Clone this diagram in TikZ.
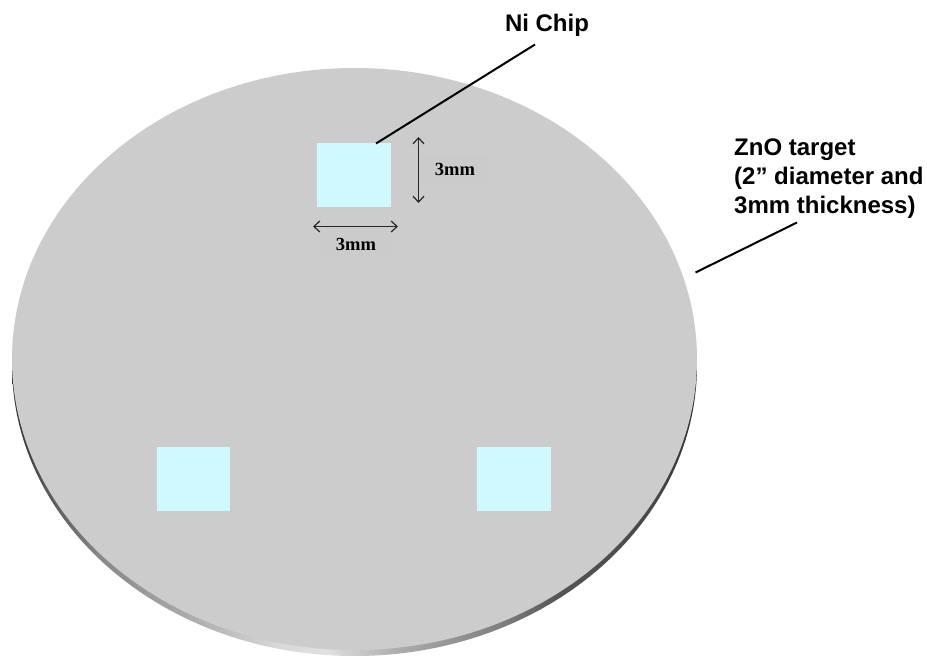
\documentclass[tikz,border=0pt]{standalone}
\usepackage{fontspec}
\setmainfont{Liberation Sans}
\newfontfamily\dimfont{Liberation Serif}
\usetikzlibrary{arrows.meta,positioning}
\definecolor{discgray}{HTML}{CCCCCC}
\definecolor{chipcyan}{HTML}{D0F9FF}
\pgfdeclarehorizontalshading{edge shade}{100bp}{
  color(0bp)=(black!80); color(25bp)=(black!80); color(27bp)=(black!68);
  color(31.4bp)=(black!47); color(38.7bp)=(black!31); color(44.6bp)=(black!15);
  color(48bp)=(black!12); color(53.3bp)=(black!33); color(60.6bp)=(black!50);
  color(65bp)=(black!67); color(72bp)=(black!72); color(75bp)=(black!80); color(100bp)=(black!80)}
\tikzset{
  chip box/.style={draw=none,fill=chipcyan,minimum width=73.5pt,minimum height=63.5pt,inner sep=0pt,outer sep=0pt},
  call label/.style={font=\fontsize{24}{29}\selectfont\bfseries,inner sep=0pt,align=left},
  call line/.style={line width=2pt,black},
  size arrow/.style={line width=1.2pt,black!85,{Straight Barb[length=6pt,width=11pt]}-{Straight Barb[length=6pt,width=11pt]}},
  size label/.style={font=\fontsize{18.5}{20}\dimfont\bfseries,inner sep=0pt,fill=discgray!99.5!black,minimum width=66pt,minimum height=26pt},
}
\begin{document}
\begin{tikzpicture}[x=1pt,y=-1pt]
  \useasboundingbox (0,0) rectangle (927,656);
  % disc
  \begin{scope}
    \clip (0,368) rectangle (927,656);
    \shade[shading=edge shade] (354.5,365) ellipse [x radius=342.5,y radius=291];
  \end{scope}
  \fill[discgray] (354.5,359) ellipse [x radius=342.5,y radius=291];
  % chips
  \node[chip box] (chip1) at (354,175) {};
  \node[chip box] (chip2) at (193.5,479) {};
  \node[chip box] (chip3) at (514,479) {};
  % size marks
  \coordinate (vtop) at (418.5,137);
  \coordinate (vbot) at (418.5,203);
  \coordinate (hleft) at (313,226.5);
  \coordinate (hright) at (398,226.5);
  \node[size label] (size1) at (455,169) {3mm};
  \node[size label] (size2) at (356,244) {3mm};
  \draw[size arrow] (vtop)--(vbot);
  \draw[size arrow] (hleft)--(hright);
  % callouts
  \node[call label] (ni) at (547,25) {Ni Chip};
  \node[call label,anchor=base west] (zno) at (734,213) {ZnO target\\(2” diameter and\\3mm thickness)};
  \coordinate (chipjoin) at (376,143.5);
  \coordinate (niend) at (535,44.5);
  \coordinate (znoend) at (797,222.5);
  \coordinate (discpt) at (695.5,272.5);
  \draw[call line] (chipjoin)--(niend);
  \draw[call line] (discpt)--(znoend);
\end{tikzpicture}
\end{document}
